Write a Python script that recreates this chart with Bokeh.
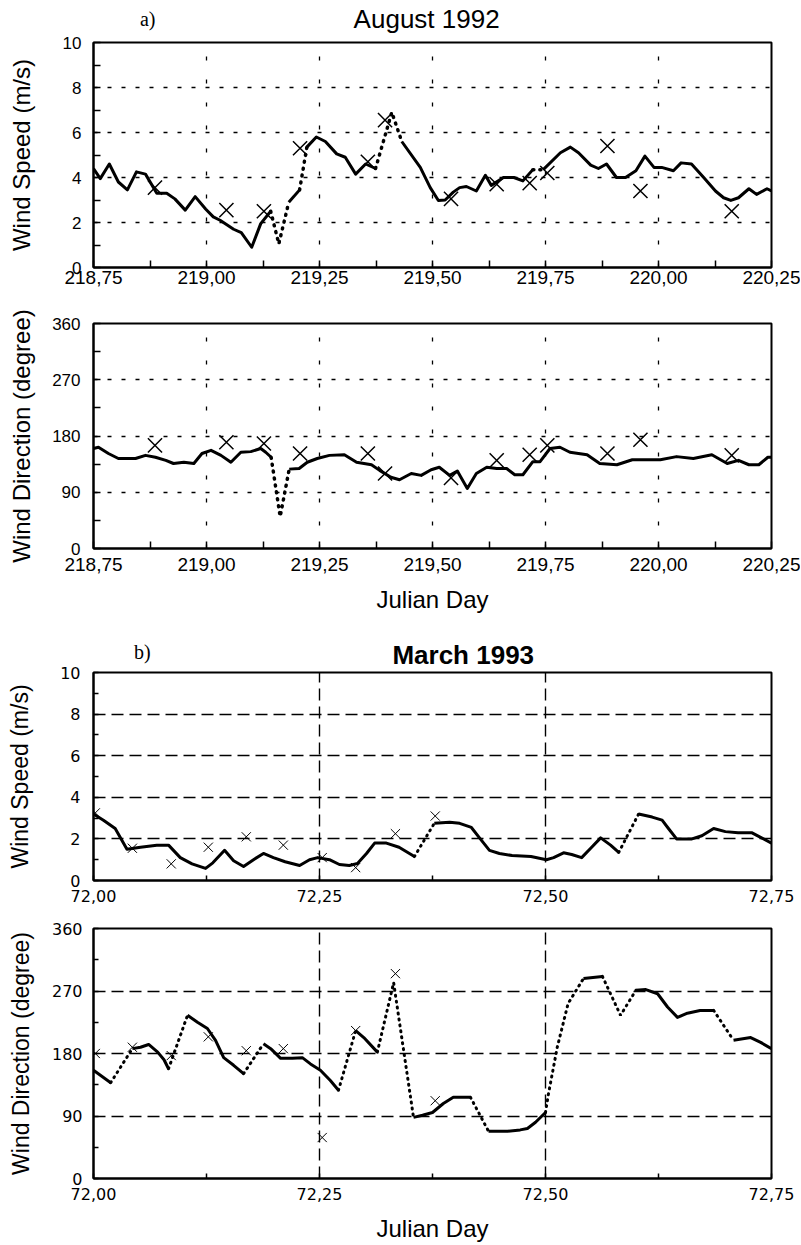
from bokeh.plotting import figure
from bokeh.layouts import column
from bokeh.models import FixedTicker, Range1d
from bokeh.core.properties import value
from bokeh.embed import file_html
from bokeh.resources import INLINE

# ---------------- August 1992 (panel a) ----------------
aug_t = [218.750, 218.765, 218.785, 218.805, 218.825, 218.845, 218.865, 218.890, 218.912, 218.930,
         218.953, 218.975, 218.998, 219.015, 219.030, 219.060, 219.077, 219.100, 219.120, 219.142,
         219.160, 219.182, 219.206, 219.222, 219.243, 219.263, 219.288, 219.307, 219.330, 219.352,
         219.374, 219.410, 219.432, 219.473, 219.495, 219.513, 219.528, 219.546, 219.560, 219.575,
         219.597, 219.617, 219.630, 219.657, 219.680, 219.700, 219.722, 219.745, 219.783, 219.805,
         219.823, 219.850, 219.867, 219.885, 219.907, 219.927, 219.950, 219.970, 219.990, 220.007,
         220.033, 220.050, 220.073, 220.100, 220.126, 220.144, 220.160, 220.177, 220.200, 220.217,
         220.240, 220.250]
aug_speed = [4.40, 3.95, 4.60, 3.80, 3.45, 4.25, 4.15, 3.30, 3.30, 3.05,
             2.55, 3.15, 2.60, 2.25, 2.10, 1.70, 1.55, 0.90, 1.95, 2.50,
             1.05, 2.90, 3.45, 5.35, 5.80, 5.60, 5.05, 4.90, 4.15, 4.60,
             4.40, 6.90, 5.60, 4.45, 3.55, 2.98, 3.00, 3.35, 3.55, 3.60,
             3.40, 4.10, 3.65, 4.00, 4.00, 3.85, 4.35, 4.35, 5.10, 5.35,
             5.10, 4.55, 4.40, 4.60, 4.00, 4.00, 4.30, 4.95, 4.45, 4.45,
             4.30, 4.65, 4.60, 4.00, 3.40, 3.10, 2.98, 3.10, 3.50, 3.25,
             3.50, 3.40]
# 1 = segment from this point to the next is interpolated (dotted)
aug_speed_gap = [0] * 19 + [1, 1, 0, 1] + [0] * 7 + [1, 1] + [0] * 14 + [1] + [0] * 24

aug_dir_t = [218.750, 218.761, 218.783, 218.805, 218.843, 218.865, 218.887, 218.910, 218.927, 218.950,
             218.972, 218.990, 219.010, 219.032, 219.054, 219.076, 219.098, 219.120, 219.131, 219.143,
             219.163, 219.183, 219.205, 219.223, 219.245, 219.272, 219.305, 219.332, 219.365, 219.383,
             219.408, 219.427, 219.453, 219.475, 219.497, 219.515, 219.538, 219.555, 219.577, 219.597,
             219.620, 219.642, 219.664, 219.682, 219.700, 219.722, 219.738, 219.760, 219.782, 219.804,
             219.842, 219.870, 219.908, 219.942, 219.966, 220.004, 220.040, 220.077, 220.118, 220.152,
             220.177, 220.200, 220.222, 220.242, 220.250]
aug_dir = [160, 162, 152, 144, 144, 149, 146, 141, 136, 138,
           136, 152, 157, 149, 138, 154, 155, 160, 154, 146,
           51, 127, 128, 138, 144, 149, 150, 138, 134, 125,
           114, 110, 120, 117, 126, 130, 117, 124, 96, 120,
           130, 128, 128, 118, 118, 139, 139, 160, 162, 154,
           150, 136, 134, 142, 142, 142, 147, 144, 150, 136,
           141, 134, 134, 146, 146]
aug_dir_gap = [0] * 19 + [1, 1] + [0] * 44

aug_obs_t = [218.886, 219.044, 219.127, 219.207, 219.357, 219.395, 219.541,
             219.642, 219.715, 219.754, 219.887, 219.960, 220.162]
aug_obs_speed = [3.55, 2.55, 2.50, 5.30, 4.70, 6.55, 3.05, 3.70, 3.75, 4.20, 5.40, 3.40, 2.50]
aug_obs_dir = [165, 170, 168, 152, 152, 120, 113, 141, 150, 165, 152, 174, 149]

aug_xticks = [218.75, 219.00, 219.25, 219.50, 219.75, 220.00, 220.25]
aug_xlabels = ["218,75", "219,00", "219,25", "219,50", "219,75", "220,00", "220,25"]
aug_xminor = [218.875, 219.125, 219.375, 219.625, 219.875, 220.125]

# ---------------- March 1993 (panel b) ----------------
mar_t = [72.000, 72.011, 72.024, 72.037, 72.052, 72.070, 72.083, 72.096, 72.109, 72.124,
         72.132, 72.145, 72.155, 72.166, 72.177, 72.188, 72.199, 72.212, 72.228, 72.239,
         72.248, 72.261, 72.272, 72.283, 72.292, 72.302, 72.311, 72.324, 72.338, 72.355,
         72.377, 72.394, 72.405, 72.418, 72.427, 72.438, 72.449, 72.463, 72.484, 72.501,
         72.509, 72.520, 72.529, 72.540, 72.550, 72.561, 72.572, 72.581, 72.603, 72.618,
         72.629, 72.636, 72.645, 72.662, 72.673, 72.686, 72.699, 72.713, 72.728, 72.739,
         72.750]
mar_speed = [3.20, 2.90, 2.50, 1.50, 1.60, 1.70, 1.70, 1.10, 0.80, 0.58,
             0.85, 1.45, 0.95, 0.67, 1.00, 1.30, 1.10, 0.90, 0.72, 1.00,
             1.10, 1.00, 0.77, 0.72, 0.82, 1.30, 1.80, 1.80, 1.60, 1.15,
             2.75, 2.80, 2.75, 2.55, 2.05, 1.45, 1.30, 1.20, 1.15, 1.00,
             1.10, 1.33, 1.25, 1.10, 1.55, 2.05, 1.70, 1.35, 3.20, 3.05,
             2.90, 2.50, 2.00, 2.00, 2.15, 2.50, 2.35, 2.30, 2.30, 2.05,
             1.80]
mar_speed_gap = [0] * 29 + [1] + [0] * 17 + [1] + [0] * 13

mar_dir_t = [72.000, 72.019, 72.043, 72.052, 72.061, 72.071, 72.078, 72.083, 72.104, 72.115,
             72.126, 72.135, 72.144, 72.155, 72.166, 72.188, 72.196, 72.207, 72.220, 72.231,
             72.240, 72.251, 72.262, 72.271, 72.290, 72.299, 72.314, 72.332, 72.354, 72.364,
             72.375, 72.387, 72.398, 72.417, 72.437, 72.458, 72.472, 72.480, 72.489, 72.500,
             72.503, 72.513, 72.525, 72.542, 72.563, 72.583, 72.600, 72.611, 72.624, 72.635,
             72.646, 72.657, 72.671, 72.686, 72.708, 72.727, 72.738, 72.750]
mar_dir = [156, 138, 187, 189, 193, 182, 171, 158, 235, 225,
           216, 199, 174, 163, 151, 194, 187, 173, 173, 174,
           165, 156, 141, 127, 213, 203, 182, 282, 88, 91,
           95, 108, 117, 117, 68, 68, 70, 72, 81, 95,
           120, 189, 252, 288, 291, 235, 271, 272, 266, 247,
           232, 238, 242, 242, 199, 203, 196, 187]
mar_dir_gap = [0, 1, 0, 0, 0, 0, 0, 1, 0, 0,
               0, 0, 0, 0, 1, 0, 0, 0, 0, 0,
               0, 0, 0, 1, 0, 0, 1, 1, 0, 0,
               0, 0, 0, 1, 0, 0, 0, 0, 0, 1,
               1, 1, 1, 0, 1, 1, 0, 0, 0, 0,
               0, 0, 0, 1, 0, 0, 0, 0]

mar_obs_t = [72.002, 72.043, 72.086, 72.127, 72.169, 72.210, 72.253, 72.290, 72.334, 72.378]
mar_obs_speed = [3.25, 1.55, 0.80, 1.60, 2.10, 1.70, 1.10, 0.62, 2.25, 3.10]
mar_obs_dir = [180, 189, 177, 204, 184, 187, 59, 213, 295, 112]

mar_xticks = [72.00, 72.25, 72.50, 72.75]
mar_xlabels = ["72,00", "72,25", "72,50", "72,75"]
mar_xminor = [72.125, 72.375, 72.625]

speed_ticks = [0, 2, 4, 6, 8, 10]
speed_labels = ["0", "2", "4", "6", "8", "10"]
speed_minor = [1, 3, 5, 7, 9]
dir_ticks = [0, 90, 180, 270, 360]
dir_labels = ["0", "90", "180", "270", "360"]
dir_minor = [45, 135, 225, 315]

FIG_W = 800
BORDER_L = 93
BORDER_R = 29


def split_segments(t, v, gap):
    solid_x, solid_y, dot_x, dot_y = [], [], [], []
    cur_x, cur_y, cur = [t[0]], [v[0]], gap[0]
    for i in range(len(t) - 1):
        if gap[i] != cur:
            (dot_x if cur else solid_x).append(cur_x)
            (dot_y if cur else solid_y).append(cur_y)
            cur_x, cur_y, cur = [t[i]], [v[i]], gap[i]
        cur_x.append(t[i + 1])
        cur_y.append(v[i + 1])
    (dot_x if cur else solid_x).append(cur_x)
    (dot_y if cur else solid_y).append(cur_y)
    return solid_x, solid_y, dot_x, dot_y


def make_header(height, x_range, items):
    """A strip above a panel holding its title texts; x shares the panel's day axis,
    y is measured in pixels from the strip's top."""
    h = figure(width=FIG_W, height=height, x_range=x_range, y_range=Range1d(height, 0),
               output_backend="svg", toolbar_location=None, title=None,
               x_axis_location=None, y_axis_location=None,
               min_border_left=BORDER_L, min_border_right=BORDER_R,
               min_border_top=0, min_border_bottom=0)
    h.outline_line_color = None
    h.background_fill_color = "white"
    h.border_fill_color = "white"
    h.grid.visible = False
    for (x, y, txt, font, size, style) in items:
        h.text(x=[x], y=[y], text=[txt], text_align="center", text_baseline="alphabetic",
               text_font=value(font), text_font_size=value(size), text_font_style=style,
               text_color="black")
    return h


def make_fig(height, bt, bb, xr, yr, xticks, xlabels, xminor,
             yticks, ylabels, yminor, ylabel, xlabel, style):
    p = figure(width=FIG_W, height=height, x_range=Range1d(*xr), y_range=Range1d(*yr),
               output_backend="svg", toolbar_location=None, title=None,
               min_border_left=BORDER_L, min_border_right=BORDER_R,
               min_border_top=bt, min_border_bottom=bb)
    p.background_fill_color = "white"
    p.border_fill_color = "white"
    p.outline_line_color = "black"
    p.outline_line_width = 2
    p.outline_line_alpha = 1
    p.xaxis.ticker = FixedTicker(ticks=xticks, minor_ticks=xminor)
    p.yaxis.ticker = FixedTicker(ticks=yticks, minor_ticks=yminor)
    p.xaxis.major_label_overrides = {float(k): s for k, s in zip(xticks, xlabels)}
    p.yaxis.major_label_overrides = {float(k): s for k, s in zip(yticks, ylabels)}
    p.xgrid.ticker = FixedTicker(ticks=xticks)
    p.ygrid.ticker = FixedTicker(ticks=yticks)
    for g, dash in ((p.xgrid, style["xgrid_dash"]), (p.ygrid, style["ygrid_dash"])):
        g.grid_line_color = "black"
        g.grid_line_alpha = 1
        g.grid_line_dash = dash
        g.grid_line_width = style["grid_width"]
    for ax in (p.xaxis, p.yaxis):
        ax.axis_line_color = "black"
        ax.axis_line_width = 2
        ax.major_tick_in = style["tick_in"]
        ax.major_tick_out = 0
        ax.minor_tick_in = style["tick_in"]
        ax.minor_tick_out = 0
        ax.major_tick_line_width = 1.5
        ax.minor_tick_line_width = 1.5
        ax.major_label_text_font = style["tick_font"]
        ax.major_label_text_color = "black"
        ax.axis_label_text_font = "Liberation Sans"
        ax.axis_label_text_font_style = "normal"
        ax.axis_label_text_color = "black"
    p.xaxis.major_label_text_font_size = style["xtick_size"]
    p.yaxis.major_label_text_font_size = style["ytick_size"]
    p.xaxis.major_label_standoff = style["xstandoff"]
    p.yaxis.major_label_standoff = style["ystandoff"]
    p.yaxis.axis_label = ylabel
    p.yaxis.axis_label_text_font_size = style["ylabel_size"]
    p.yaxis.axis_label_standoff = style["ylabel_standoff"]
    if xlabel:
        p.xaxis.axis_label = xlabel
        p.xaxis.axis_label_text_font_size = "24px"
        p.xaxis.axis_label_standoff = style["xlabel_standoff"]
    return p


def draw_series(p, t, v, gap, obs_t, obs_v, style):
    sx, sy, dx, dy = split_segments(t, v, gap)
    p.multi_line(sx, sy, line_color="black", line_width=style["lw"], line_join="round")
    p.multi_line(dx, dy, line_color="black", line_width=style["dot_lw"],
                 line_dash=style["dot_dash"], line_cap="round")
    p.scatter(obs_t, obs_v, marker="x", size=style["msize"], line_color="black",
              line_width=style["mlw"])


style_a = dict(xgrid_dash="4 19", ygrid_dash="4 10", grid_width=1.3, tick_in=7,
               tick_font="Liberation Sans", xtick_size="19px", ytick_size="17px",
               ylabel_size="24px", lw=3, dot_lw=3.5, dot_dash="1 6", msize=20, mlw=1.5)
style_b = dict(xgrid_dash="12 6", ygrid_dash="12 6", grid_width=1.4, tick_in=5,
               tick_font="DejaVu Sans", xtick_size="16px", ytick_size="16px",
               ylabel_size="23px", lw=3, dot_lw=3, dot_dash="1 5", msize=13, mlw=1)

# Panel a: speed  (page rows 33..299, frame 42..267)
p1 = make_fig(266, 9, 32, (218.75, 220.25), (0, 10), aug_xticks, aug_xlabels, aug_xminor,
              speed_ticks, speed_labels, speed_minor, "Wind Speed (m/s)", None,
              dict(style_a, xstandoff=3, ystandoff=12, ylabel_standoff=25))
draw_series(p1, aug_t, aug_speed, aug_speed_gap, aug_obs_t, aug_obs_speed, style_a)
head_a = make_header(33, p1.x_range,
                     [(219.487, 18, "August 1992", "Liberation Sans", "26px", "normal"),
                      (218.870, 18, "a)", "Liberation Serif", "20px", "normal")])

# Panel a: direction  (page rows 299..620, frame 323..548)
p2 = make_fig(321, 24, 72, (218.75, 220.25), (0, 360), aug_xticks, aug_xlabels, aug_xminor,
              dir_ticks, dir_labels, dir_minor, "Wind Direction (degree)", "Julian Day",
              dict(style_a, xstandoff=9, ystandoff=13, ylabel_standoff=14, xlabel_standoff=12))
draw_series(p2, aug_dir_t, aug_dir, aug_dir_gap, aug_obs_t, aug_obs_dir, style_a)

# Panel b: speed  (page rows 664..910, frame 672..880)
p3 = make_fig(246, 8, 30, (72.0, 72.75), (0, 10), mar_xticks, mar_xlabels, mar_xminor,
              speed_ticks, speed_labels, speed_minor, "Wind Speed (m/s)", None,
              dict(style_b, xstandoff=9, ystandoff=13, ylabel_standoff=24))
draw_series(p3, mar_t, mar_speed, mar_speed_gap, mar_obs_t, mar_obs_speed, style_b)
head_b = make_header(44, p3.x_range,
                     [(72.409, 34, "March 1993", "Liberation Sans", "26px", "bold"),
                      (72.054, 31, "b)", "Liberation Serif", "20px", "normal")])

# Panel b: direction  (page rows 910..1244, frame 928..1178)
p4 = make_fig(334, 18, 66, (72.0, 72.75), (0, 360), mar_xticks, mar_xlabels, mar_xminor,
              dir_ticks, dir_labels, dir_minor, "Wind Direction (degree)", "Julian Day",
              dict(style_b, xstandoff=9, ystandoff=11, ylabel_standoff=15, xlabel_standoff=12))
draw_series(p4, mar_dir_t, mar_dir, mar_dir_gap, mar_obs_t, mar_obs_dir, style_b)

layout = column(head_a, p1, p2, head_b, p3, p4, spacing=0)
open("out.html", "w").write(file_html(layout, INLINE))
